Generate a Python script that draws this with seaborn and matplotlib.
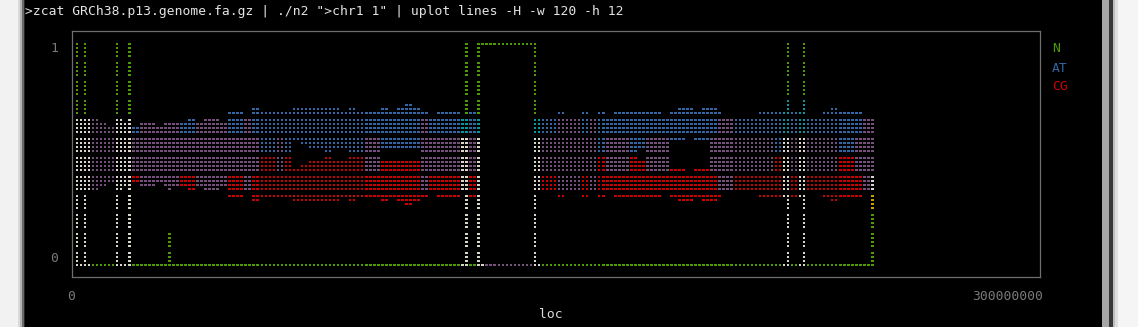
import numpy as np
import pandas as pd
import matplotlib
matplotlib.use("Agg")
import matplotlib.pyplot as plt
from matplotlib.patches import Rectangle
import seaborn as sns

# ---------------- data ----------------
XMAX = 300_000_000            # x axis upper limit (loc)
NCHAR_W, NCHAR_H = 120, 12    # uplot -w 120 -h 12

# AT / CG fraction envelope per 2-dot-column window (high, low); nan = inside centromere gap
AT_hi = [0.66, 0.66, 0.66, 0.64, 0.62, 0.66, 0.64, 0.62, 0.64, 0.64,
         0.62, 0.64, 0.64, 0.64, 0.66, 0.64, 0.66, 0.66, 0.64, 0.68,
         0.68, 0.66, 0.70, 0.68, 0.68, 0.68, 0.68, 0.70, 0.70, 0.70,
         0.70, 0.70, 0.70, 0.68, 0.70, 0.68, 0.68, 0.68, 0.70, 0.68,
         0.70, 0.72, 0.70, 0.68, 0.66, 0.68, 0.68, 0.68, 0.66, 0.68,
         0.66, np.nan, np.nan, np.nan, np.nan, np.nan, np.nan, 0.66, 0.66, 0.66,
         0.68, 0.66, 0.66, 0.68, 0.66, 0.68, 0.66, 0.68, 0.68, 0.68,
         0.68, 0.68, 0.68, 0.66, 0.68, 0.70, 0.70, 0.68, 0.70, 0.70,
         0.66, 0.66, 0.66, 0.66, 0.66, 0.68, 0.68, 0.68, 0.68, 0.68,
         0.68, 0.66, 0.66, 0.68, 0.70, 0.68, 0.68, 0.68, 0.66, 0.66]
AT_lo = [0.36, 0.36, 0.36, 0.38, 0.38, 0.405, 0.405, 0.445, 0.38, 0.38,
         0.405, 0.38, 0.405, 0.445, 0.445, 0.405, 0.38, 0.38, 0.405, 0.445,
         0.445, 0.405, 0.47, 0.51, 0.51, 0.49, 0.51, 0.575, 0.555, 0.53,
         0.53, 0.51, 0.53, 0.53, 0.51, 0.51, 0.445, 0.445, 0.53, 0.53,
         0.53, 0.53, 0.53, 0.405, 0.445, 0.445, 0.445, 0.445, 0.445, 0.49,
         0.49, np.nan, np.nan, np.nan, np.nan, np.nan, np.nan, 0.49, 0.445, 0.445,
         0.405, 0.405, 0.405, 0.425, 0.405, 0.51, 0.445, 0.445, 0.47, 0.51,
         0.53, 0.445, 0.445, 0.47, 0.575, 0.575, 0.60, 0.575, 0.575, 0.47,
         0.405, 0.405, 0.445, 0.445, 0.445, 0.445, 0.49, 0.51, 0.49, 0.445,
         0.445, 0.445, 0.445, 0.445, 0.49, 0.51, 0.51, 0.47, 0.405, 0.405]
CG_hi = [0.64, 0.64, 0.64, 0.62, 0.62, 0.60, 0.60, 0.555, 0.62, 0.62,
         0.60, 0.62, 0.60, 0.555, 0.555, 0.60, 0.62, 0.62, 0.60, 0.555,
         0.555, 0.60, 0.53, 0.49, 0.49, 0.51, 0.49, 0.425, 0.445, 0.47,
         0.47, 0.49, 0.47, 0.47, 0.49, 0.49, 0.555, 0.555, 0.47, 0.47,
         0.47, 0.47, 0.47, 0.60, 0.555, 0.555, 0.555, 0.555, 0.555, 0.51,
         0.51, np.nan, np.nan, np.nan, np.nan, np.nan, np.nan, 0.51, 0.555, 0.555,
         0.60, 0.60, 0.60, 0.575, 0.60, 0.49, 0.555, 0.555, 0.53, 0.49,
         0.47, 0.555, 0.555, 0.53, 0.425, 0.425, 0.40, 0.425, 0.425, 0.53,
         0.60, 0.60, 0.555, 0.555, 0.555, 0.555, 0.51, 0.49, 0.51, 0.555,
         0.555, 0.555, 0.555, 0.555, 0.51, 0.49, 0.49, 0.53, 0.60, 0.60]
CG_lo = [0.34, 0.34, 0.34, 0.36, 0.38, 0.34, 0.36, 0.38, 0.36, 0.36,
         0.38, 0.36, 0.36, 0.36, 0.34, 0.36, 0.34, 0.34, 0.36, 0.32,
         0.32, 0.34, 0.30, 0.32, 0.32, 0.32, 0.32, 0.30, 0.30, 0.30,
         0.30, 0.30, 0.30, 0.32, 0.30, 0.32, 0.32, 0.32, 0.30, 0.32,
         0.30, 0.28, 0.30, 0.32, 0.34, 0.32, 0.32, 0.32, 0.34, 0.32,
         0.34, np.nan, np.nan, np.nan, np.nan, np.nan, np.nan, 0.34, 0.34, 0.34,
         0.32, 0.34, 0.34, 0.32, 0.34, 0.32, 0.34, 0.32, 0.32, 0.32,
         0.32, 0.32, 0.32, 0.34, 0.32, 0.30, 0.30, 0.32, 0.30, 0.30,
         0.34, 0.34, 0.34, 0.34, 0.34, 0.32, 0.32, 0.32, 0.32, 0.32,
         0.32, 0.34, 0.34, 0.32, 0.30, 0.32, 0.32, 0.32, 0.34, 0.34]

# N gaps (loc in Mb)
gap_loc_mb = [0.0, 2.7, 12.7, 16.5, 121.8, 222.5, 227.6]   # fully N: N=1, AT=0, CG=0
part_loc_mb = [29.1]
part_N, part_AT, part_CG = [0.15], [0.50], [0.35]
cen_start_mb, cen_end_mb = 125.5, 143.1                   # centromere block, N=1
end_loc_mb = 249.0
end_N, end_AT, end_CG = 0.36, 0.36, 0.28

series_names = ["N", "AT", "CG"]

# ---------------- braille canvas (as uplot draws it) ----------------
NCOL, NROW = NCHAR_W * 2, NCHAR_H * 4
DOT = XMAX / (NCOL - 1)


def col_of(loc):
    return int(round(loc / DOT))


def row_of(v):
    return int(round((1 - v) * (NROW - 1)))


spikes = {col_of(m * 1e6): (1.0, 0.0, 0.0) for m in gap_loc_mb}
for m, n, a, g in zip(part_loc_mb, part_N, part_AT, part_CG):
    spikes[col_of(m * 1e6)] = (n, a, g)
c_cen0, c_cen1 = col_of(cen_start_mb * 1e6), col_of(cen_end_mb * 1e6)
c_end = col_of(end_loc_mb * 1e6)

samples = []  # (col, N, AT, CG)
for k in range(len(AT_hi)):
    if np.isnan(AT_hi[k]):
        continue
    hi = (0.0, AT_hi[k], CG_lo[k])
    lo = (0.0, AT_lo[k], CG_hi[k])
    for c, seq in ((2 * k, (hi, lo)), (2 * k + 1, (lo, hi))):
        if c_cen0 < c < c_cen1 or c > c_end:
            continue
        for s in seq:
            samples.append((c,) + s)
        if c in spikes:
            samples.append((c,) + spikes[c])
            samples.append((c,) + seq[-1])
        if c == c_cen0:
            samples.append((c_cen0, 1.0, 0.0, 0.0))
            samples.append((c_cen1, 1.0, 0.0, 0.0))
samples.append((c_end, end_N, end_AT, end_CG))


def bresenham(x0, y0, x1, y1):
    pts = []
    dx, dy = abs(x1 - x0), -abs(y1 - y0)
    sx = 1 if x0 < x1 else -1
    sy = 1 if y0 < y1 else -1
    err = dx + dy
    while True:
        pts.append((x0, y0))
        if x0 == x1 and y0 == y1:
            break
        e2 = 2 * err
        if e2 >= dy:
            err += dy
            x0 += sx
        if e2 <= dx:
            err += dx
            y0 += sy
    return pts


bits = {"N": 2, "AT": 4, "CG": 1}
dots = {}
cell_mask = {}
for si, name in enumerate(series_names):
    pts = [(s[0], row_of(s[1 + si])) for s in samples]
    for (x0, y0), (x1, y1) in zip(pts[:-1], pts[1:]):
        for (c, r) in bresenham(x0, y0, x1, y1):
            dots[(c, r)] = True
            cell = (c // 2, r // 4)
            cell_mask[cell] = cell_mask.get(cell, 0) | bits[name]

mask_color = {1: "#cc0000", 2: "#4e9a06", 3: "#c4a000", 4: "#3465a4",
              5: "#75507b", 6: "#06989a", 7: "#d8d6c8"}

CELL_PX, SUB_PX, SPAN_PX = 19, 4, 221
rows = []
for (c, r) in dots:
    m = cell_mask[(c // 2, r // 4)]
    rows.append({"loc": c * DOT,
                 "y": 1 - (CELL_PX * (r // 4) + SUB_PX * (r % 4)) / SPAN_PX,
                 "mask": m})
df = pd.DataFrame(rows)

# ---------------- figure ----------------
W, H = 1138, 327
sns.set_theme(style="dark")
plt.rcParams["font.family"] = ["DejaVu Sans Mono", "DejaVu Sans"]

fig = plt.figure(figsize=(W / 100, H / 100), dpi=100)
fig.patch.set_facecolor("#000000")


def fx(x):
    return x / W


def fy(y):
    return 1 - y / H


# window chrome
for x0, x1, col in [(0, 18, "#f2f2f2"), (18, 20, "#dadada"), (20, 22, "#b4b4b4"),
                    (22, 24, "#6a6a6a"), (24, 25, "#262626"),
                    (1102, 1109, "#a6a6a6"), (1109, 1113, "#383838"),
                    (1113, 1115, "#bcbcbc"), (1115, 1118, "#dedede"),
                    (1118, 1138, "#f5f5f5")]:
    fig.patches.append(Rectangle((fx(x0), 0), fx(x1) - fx(x0), 1,
                                 transform=fig.transFigure, facecolor=col,
                                 edgecolor="none", zorder=0))

L, R, T, B = 72, 1040, 31, 277
ax = fig.add_axes([fx(L), fy(B), fx(R) - fx(L), fy(T) - fy(B)])
ax.set_facecolor("#000000")

df["mask"] = df["mask"].astype(int)
sns.scatterplot(data=df, x="loc", y="y", hue="mask",
                palette={m: mask_color[m] for m in df["mask"].unique()},
                marker="s", s=3.4, linewidth=0, legend=False, ax=ax,
                antialiased=False)

PX_PER_DOT = 4.017
ax.set_xlim(-5 / PX_PER_DOT * DOT, (R - 77) / PX_PER_DOT * DOT)
ax.set_ylim(-(B - 265) / SPAN_PX, (265 - T) / SPAN_PX)
ax.set_xticks([])
ax.set_yticks([])
ax.set_xlabel("")
ax.set_ylabel("")
for sp in ax.spines.values():
    sp.set_color("#6e6e6e")
    sp.set_linewidth(0.9)
    sp.set_visible(True)

FS = 9.4
gray = "#7a7a7a"
fig.text(fx(25), fy(12), '>zcat GRCh38.p13.genome.fa.gz | ./n2 ">chr1 1" | uplot lines -H -w 120 -h 12',
         color="#e4e4e4", fontsize=9.4, ha="left", va="center")
fig.text(fx(58), fy(49), "1", color=gray, fontsize=FS, ha="right", va="center")
fig.text(fx(58), fy(258), "0", color=gray, fontsize=FS, ha="right", va="center")
fig.text(fx(71.5), fy(297), "0", color=gray, fontsize=FS, ha="center", va="center")
fig.text(fx(1043), fy(297), "300000000", color=gray, fontsize=FS, ha="right", va="center")
fig.text(fx(551), fy(315), "loc", color="#dcdcdc", fontsize=FS, ha="center", va="center")
for i, (name, col) in enumerate(zip(series_names, ["#4e9a06", "#3465a4", "#cc0000"])):
    fig.text(fx(1052), fy(49 + 19 * i), name, color=col, fontsize=FS, ha="left", va="center")

fig.savefig("out.png", dpi=100, facecolor=fig.get_facecolor())
